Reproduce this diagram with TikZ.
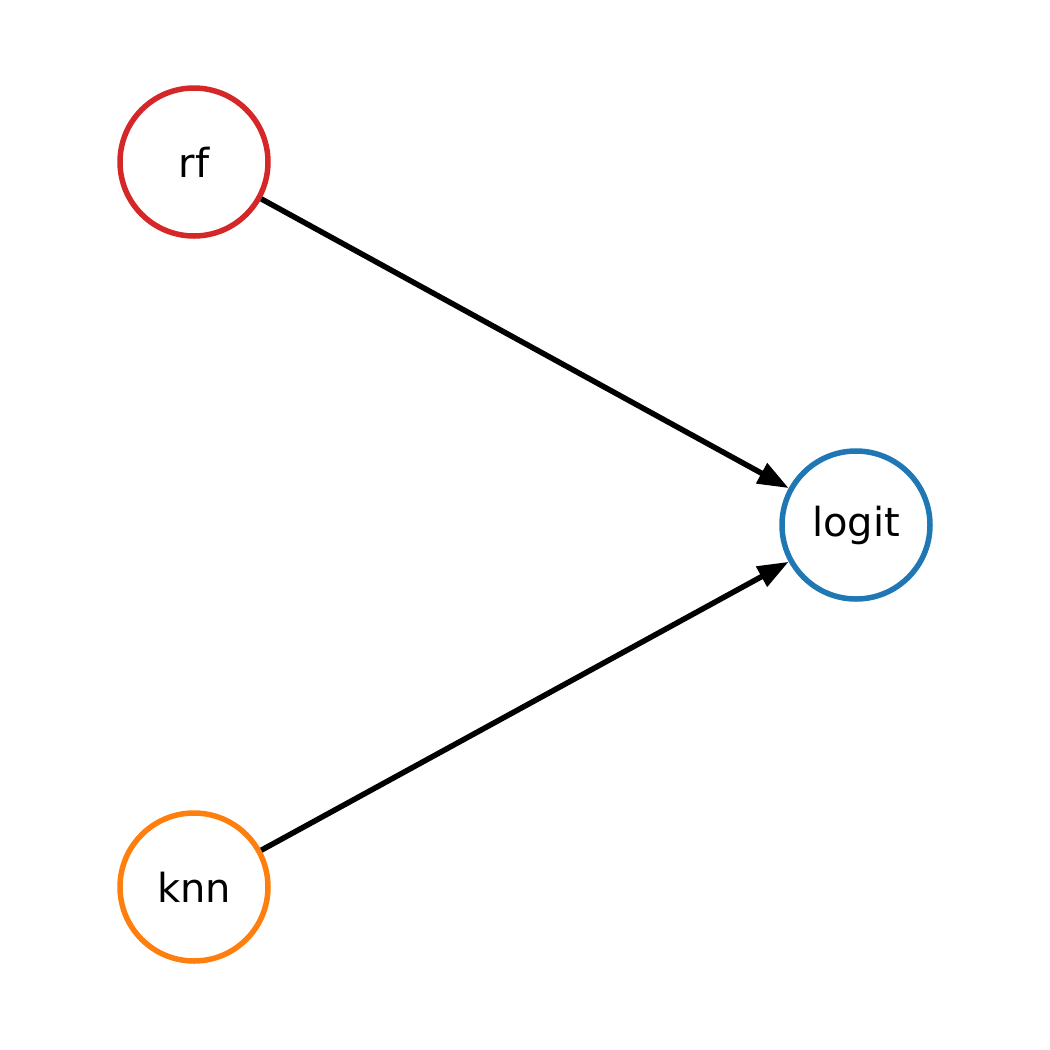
\documentclass[tikz,border=0pt]{standalone}
\usepackage{fontspec}
\setmainfont{DejaVu Sans}
\usetikzlibrary{arrows.meta}
\definecolor{tabred}{HTML}{D62728}
\definecolor{taborange}{HTML}{FF7F0E}
\definecolor{tabblue}{HTML}{1F77B4}
\begin{document}
\begin{tikzpicture}[x=1pt,y=-1pt,
  gnode/.style={circle,draw,line width=5.5pt,minimum size=148pt,inner sep=0pt,fill=white,
    font=\fontsize{40}{46}\selectfont},
  edge/.style={line width=5.5pt,-{Triangle[length=31pt,width=22pt]}}]
\useasboundingbox (0,0) rectangle (1050,1050);
\node[gnode,draw=tabred] (rf) at (194,162) {rf};
\node[gnode,draw=taborange] (knn) at (194,887) {knn};
\node[gnode,draw=tabblue] (logit) at (856,525) {logit};
\draw[edge] (rf) -- (logit);
\draw[edge] (knn) -- (logit);
\end{tikzpicture}
\end{document}
